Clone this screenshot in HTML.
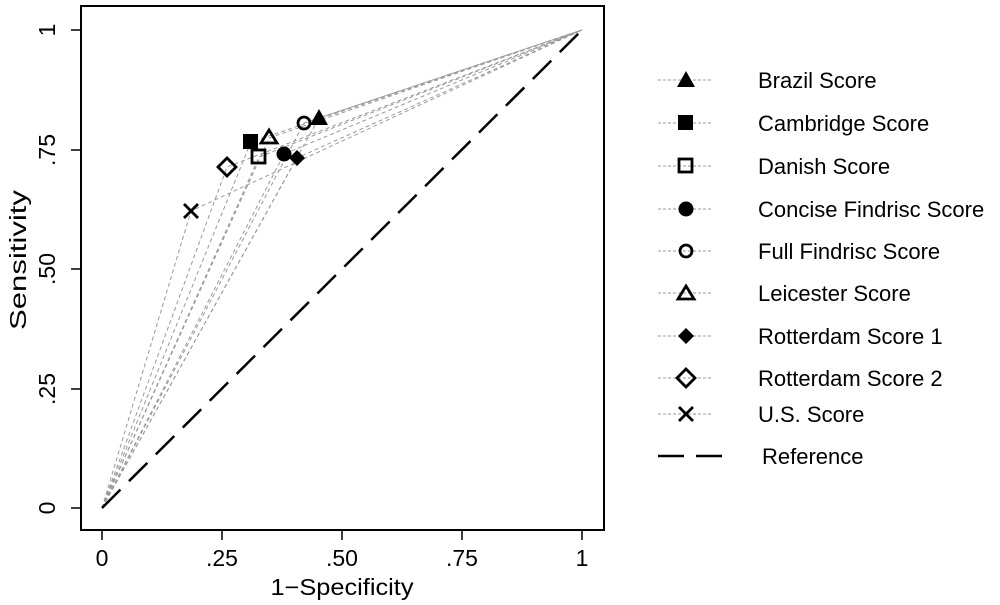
<!DOCTYPE html><html><head><style>body{margin:0;background:#fff}svg{display:block;font-family:"Liberation Sans",sans-serif}</style></head><body>
<svg width="1000" height="605" xmlns="http://www.w3.org/2000/svg">
<rect x="81" y="6" width="523" height="524" fill="none" stroke="#000" stroke-width="2"/>
<g id="lines" fill="none" stroke="#999" stroke-width="1" stroke-dasharray="4,3">
<polyline points="102,508 319,118 582,30"/>
<polyline points="102,508 251,142 582,30"/>
<polyline points="102,508 259,157 582,30"/>
<polyline points="102,508 284,154 582,30"/>
<polyline points="102,508 304,123 582,30"/>
<polyline points="102,508 269,138 582,30"/>
<polyline points="102,508 297,158 582,30"/>
<polyline points="102,508 227,167 582,30"/>
<polyline points="102,508 191,211 582,30"/>
</g>
<line x1="102" y1="508" x2="582" y2="30" stroke="#000" stroke-width="2.5" stroke-dasharray="26,12"/>
<g stroke="#000" stroke-width="2.8">
<polygon points="319,109 328,125 310,125" fill="#000" stroke="none"/>
<rect x="243" y="134" width="15" height="15" fill="#000" stroke="none"/>
<rect x="252" y="150" width="13" height="13" fill="none"/>
<circle cx="284" cy="154" r="7.5" fill="#000" stroke="none"/>
<circle cx="304" cy="123" r="6" fill="none"/>
<polygon points="269,130 277,143 261,143" fill="none"/>
<polygon points="297,150 305,158 297,166 289,158" fill="#000" stroke="none"/>
<polygon points="227,158 236,167 227,176 218,167" fill="none"/>
<path d="M184,204 L198,218 M198,204 L184,218"/>
</g>
<g font-size="23" fill="#000">
<g stroke="#000" stroke-width="1.5">
<line x1="102" y1="530" x2="102" y2="540"/><line x1="222" y1="530" x2="222" y2="540"/><line x1="342" y1="530" x2="342" y2="540"/><line x1="462" y1="530" x2="462" y2="540"/><line x1="582" y1="530" x2="582" y2="540"/>
<line x1="81" y1="508" x2="71" y2="508"/><line x1="81" y1="389" x2="71" y2="389"/><line x1="81" y1="269" x2="71" y2="269"/><line x1="81" y1="150" x2="71" y2="150"/><line x1="81" y1="30" x2="71" y2="30"/>
</g>
<g text-anchor="middle">
<text x="102" y="566">0</text><text x="222" y="566">.25</text><text x="342" y="566">.50</text><text x="462" y="566">.75</text><text x="582" y="566">1</text>
<text x="342" y="595" textLength="143" lengthAdjust="spacingAndGlyphs">1−Specificity</text>
<text transform="translate(55,508) rotate(-90)">0</text>
<text transform="translate(55,389) rotate(-90)">.25</text>
<text transform="translate(55,269) rotate(-90)">.50</text>
<text transform="translate(55,150) rotate(-90)">.75</text>
<text transform="translate(55,30) rotate(-90)">1</text>
<text transform="translate(26,260) rotate(-90)" textLength="140" lengthAdjust="spacingAndGlyphs">Sensitivity</text>
</g>
</g>
<g stroke="#999" stroke-dasharray="3,2">
<line x1="658" y1="80" x2="712" y2="80"/><line x1="658" y1="123" x2="712" y2="123"/><line x1="658" y1="166" x2="712" y2="166"/><line x1="658" y1="209" x2="712" y2="209"/><line x1="658" y1="251" x2="712" y2="251"/><line x1="658" y1="293" x2="712" y2="293"/><line x1="658" y1="336" x2="712" y2="336"/><line x1="658" y1="378" x2="712" y2="378"/><line x1="658" y1="414" x2="712" y2="414"/>
</g>
<line x1="658" y1="456" x2="728" y2="456" stroke="#000" stroke-width="2.5" stroke-dasharray="26,12"/>
<g stroke="#000" stroke-width="2.8">
<polygon points="686,71 695,87 677,87" fill="#000" stroke="none"/>
<rect x="678" y="115" width="15" height="15" fill="#000" stroke="none"/>
<rect x="679" y="159" width="13" height="13" fill="none"/>
<circle cx="686" cy="209" r="7.5" fill="#000" stroke="none"/>
<circle cx="686" cy="251" r="6" fill="none"/>
<polygon points="686,286 694,299 678,299" fill="none"/>
<polygon points="686,328 694,336 686,344 678,336" fill="#000" stroke="none"/>
<polygon points="686,369 695,378 686,387 677,378" fill="none"/>
<path d="M679,407 L693,421 M693,407 L679,421"/>
</g>
<g font-size="22" fill="#000">
<text x="758" y="88">Brazil Score</text>
<text x="758" y="131">Cambridge Score</text>
<text x="758" y="174">Danish Score</text>
<text x="758" y="217">Concise Findrisc Score</text>
<text x="758" y="259">Full Findrisc Score</text>
<text x="758" y="301">Leicester Score</text>
<text x="758" y="344">Rotterdam Score 1</text>
<text x="758" y="386">Rotterdam Score 2</text>
<text x="758" y="422">U.S. Score</text>
<text x="762" y="464">Reference</text>
</g>
</svg></body></html>
